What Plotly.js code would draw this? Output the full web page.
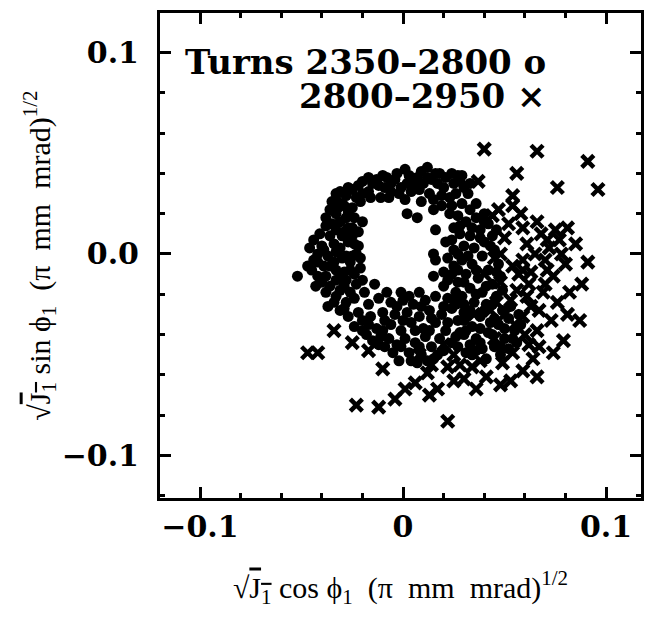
<!DOCTYPE html>
<html>
<head>
<meta charset="utf-8">
<script src="https://cdn.plot.ly/plotly-3.0.1.min.js"></script>
<style>html,body{margin:0;padding:0;background:#fff;}#chart{width:645px;height:621px;}</style>
</head>
<body>
<div id="chart"></div>
<script>
// Turns 2350-2800 (filled dots)
const circX = [
0.001,0.012,0.016,0.027,-0.008,-0.020,-0.015,-0.025,-0.031,-0.035,-0.023,-0.011,-0.006,-0.001,0.005,0.008,0.013,0.020,0.023,0.001,0.029,
-0.017,-0.012,-0.004,0.003,0.007,0.010,0.017,0.021,0.025,0.030,-0.028,-0.020,-0.009,-0.002,0.004,0.015,0.019,0.026,-0.030,-0.025,0.006,-0.013,-0.006,0.014,0.032,
-0.033,-0.027,-0.022,-0.017,-0.010,-0.003,0.002,0.009,0.012,0.018,0.024,0.028,0.033,-0.021,-0.016,-0.007,0.009,
0.002,0.007,0.015,0.016,0.015,0.016,0.015,
-0.033,-0.028,-0.020,-0.025,-0.033,-0.034,-0.044,-0.039,-0.027,-0.023,-0.044,-0.039,-0.052,-0.042,-0.033,-0.028,-0.021,-0.020,-0.036,-0.026,
-0.036,-0.031,-0.038,-0.030,-0.036,-0.041,-0.025,-0.031,-0.037,-0.030,-0.026,-0.042,-0.046,-0.034,-0.029,-0.038,-0.045,-0.033,-0.031,-0.040,-0.024,-0.022,-0.029,-0.033,-0.038,-0.027,-0.022,
-0.032,-0.027,-0.024,-0.035,-0.029,-0.024,-0.033,-0.028,-0.040,-0.047,-0.042,-0.036,-0.031,-0.026,-0.023,-0.038,-0.043,-0.029,-0.021,-0.025,
-0.014,-0.008,-0.001,0.008,0.020,0.027,
-0.037,-0.031,-0.002,0.007,0.015,-0.011,-0.020,
-0.033,-0.028,-0.024,-0.019,-0.017,-0.012,-0.006,0.000,0.005,0.011,0.016,0.022,0.026,-0.027,-0.022,-0.016,-0.010,-0.004,0.002,0.008,0.013,0.019,0.024,0.030,-0.024,-0.017,-0.013,-0.006,-0.001,0.004,0.010,0.016,0.021,0.027,0.032,-0.007,-0.003,0.001,0.006,0.011,0.014,0.018,0.024,0.028,-0.015,0.003,0.009,-0.005,0.020,
-0.029,-0.034,-0.020,-0.009,-0.003,0.003,0.009,0.014,0.020,0.025,0.030,-0.010,-0.018,0.000,0.006,0.013,0.022,0.026,-0.001,0.008,0.017,0.012,0.004,-0.009,-0.012,
0.023,0.025,0.025,0.025,0.029,
0.033,0.027,0.031,0.036,0.028,0.033,0.038,0.042,0.021,0.030,0.035,0.040,0.044,0.022,0.029,0.034,0.039,0.045,0.020,0.031,0.037,0.042,0.047,0.033,0.039,0.044,0.048,0.029,0.035,0.041,0.046,0.038,0.043,0.034,0.049,0.030,0.024,0.036,0.040,0.046,
0.019,0.024,0.028,0.034,0.040,0.024,0.038,0.043,0.027,0.032,0.036,0.027,0.022,0.030,0.041,0.046,0.036,0.026,0.033,0.040,0.045,0.038,0.031,0.044,0.049,
0.030,0.036,0.042,0.047,0.052,0.055,0.050,0.045,0.039,0.033,0.027,0.052,0.056,0.048,0.041,0.034,0.053,0.057,
0.044,0.038,0.031,0.050,0.054,0.058,0.048,0.036
];
const circY = [
0.042,0.043,0.040,0.039,0.038,0.036,0.035,0.032,0.031,0.026,0.028,0.028,0.031,0.033,0.035,0.032,0.030,0.033,0.028,0.027,0.039,
0.031,0.034,0.037,0.039,0.038,0.035,0.035,0.038,0.035,0.033,0.029,0.030,0.033,0.030,0.031,0.027,0.029,0.030,0.025,0.023,0.036,0.037,0.035,0.037,0.030,
0.030,0.033,0.034,0.038,0.039,0.040,0.035,0.041,0.038,0.040,0.040,0.036,0.035,0.026,0.028,0.028,0.026,
0.020,0.018,0.022,0.012,0.000,-0.003,-0.011,
0.020,0.018,0.016,0.013,0.012,0.005,0.007,0.002,0.006,0.000,-0.003,-0.006,-0.011,-0.011,-0.008,-0.013,-0.007,-0.013,-0.016,-0.019,
0.022,0.016,0.014,0.009,0.009,0.010,0.009,0.003,-0.001,-0.002,-0.004,0.000,0.003,-0.004,-0.009,-0.011,-0.008,-0.013,-0.018,-0.014,-0.010,0.004,0.024,0.027,0.018,0.013,0.011,
0.023,0.021,0.018,0.015,0.011,0.005,0.001,-0.001,0.004,-0.006,-0.004,-0.006,-0.012,-0.008,-0.015,-0.019,-0.016,-0.016,-0.002,-0.001,
-0.015,-0.019,-0.019,-0.019,-0.016,-0.014,
-0.026,-0.028,-0.053,-0.054,-0.052,-0.041,-0.038,
-0.021,-0.024,-0.022,-0.019,-0.025,-0.022,-0.024,-0.023,-0.025,-0.023,-0.021,-0.022,-0.019,-0.031,-0.029,-0.031,-0.029,-0.030,-0.029,-0.031,-0.028,-0.030,-0.027,-0.025,-0.036,-0.035,-0.037,-0.035,-0.038,-0.034,-0.037,-0.034,-0.038,-0.033,-0.030,-0.042,-0.045,-0.042,-0.044,-0.041,-0.046,-0.042,-0.044,-0.039,-0.043,-0.049,-0.050,-0.049,-0.048,
-0.027,-0.024,-0.033,-0.033,-0.026,-0.021,-0.026,-0.032,-0.026,-0.023,-0.029,-0.038,-0.040,-0.033,-0.038,-0.038,-0.034,-0.041,-0.046,-0.046,-0.050,-0.053,-0.053,-0.046,-0.045,
0.020,0.013,0.002,-0.006,0.025,
0.022,0.019,0.016,0.018,0.010,0.009,0.012,0.015,0.006,0.004,0.003,0.006,0.009,-0.002,-0.003,-0.005,-0.001,0.002,-0.009,-0.010,-0.012,-0.008,-0.005,-0.017,-0.019,-0.015,-0.011,-0.021,-0.024,-0.025,-0.021,-0.031,-0.034,-0.036,-0.028,-0.033,-0.010,0.025,0.020,0.012,
0.024,0.024,0.014,0.013,0.016,0.007,0.008,0.004,0.000,-0.001,-0.008,-0.008,-0.013,-0.014,-0.016,-0.009,-0.020,-0.025,-0.028,-0.028,-0.032,-0.037,-0.038,-0.025,-0.018,
-0.040,-0.042,-0.039,-0.035,-0.032,-0.038,-0.042,-0.046,-0.047,-0.045,-0.046,-0.047,-0.044,-0.050,-0.052,-0.050,-0.026,-0.030,
-0.040,-0.044,-0.049,-0.037,-0.042,-0.035,-0.046,-0.048
];
// Turns 2800-2950 (crosses)
const crossX = [
0.040,0.066,0.091,0.037,0.056,0.076,0.096,0.054,0.054,0.044,0.066,0.059,0.050,0.061,0.075,0.081,0.085,0.077,0.072,0.078,0.091,0.059,0.054,0.063,0.071,0.074,0.088,0.082,0.069,0.056,0.048,
-0.034,-0.047,-0.042,-0.025,-0.017,-0.010,-0.023,-0.012,-0.004,0.001,0.006,0.012,0.013,0.017,0.022,0.025,0.022,0.008,
0.081,0.087,0.073,0.066,0.079,0.074,0.067,0.064,0.066,0.059,0.053,0.048,0.036,0.034,0.049,0.054,0.059,0.063,0.053,0.030,0.041,
0.071,0.059,0.046,0.061,0.067,0.076,
0.047,0.052,0.045,0.050,0.043,0.057,0.062,0.065,0.068,0.070,0.060,0.045,0.038,0.028,0.020,0.014,0.040,0.035,0.025,0.055,0.062,0.070,0.080,0.058,0.048
];
const crossY = [
0.052,0.051,0.046,0.036,0.040,0.033,0.032,0.029,0.024,0.019,0.016,0.013,0.008,0.005,0.012,0.013,0.005,0.007,0.003,0.000,-0.004,-0.003,-0.006,-0.009,-0.008,-0.011,-0.015,-0.019,-0.019,-0.018,-0.014,
-0.038,-0.049,-0.049,-0.044,-0.048,-0.057,-0.075,-0.076,-0.072,-0.067,-0.064,-0.059,-0.070,-0.067,-0.083,-0.063,-0.056,-0.050,
-0.030,-0.033,-0.033,-0.038,-0.043,-0.049,-0.046,-0.052,-0.061,-0.058,-0.063,-0.065,-0.067,-0.056,-0.054,-0.049,-0.031,-0.026,-0.023,-0.062,-0.061,
0.007,-0.008,-0.024,-0.021,-0.028,-0.024,
0.022,0.015,-0.002,-0.030,-0.028,-0.010,-0.015,0.000,0.010,-0.003,-0.040,-0.042,-0.053,-0.055,-0.045,-0.055,-0.010,-0.030,-0.050,-0.035,-0.045,-0.015,-0.005,0.020,0.000
];
const legendLines = ['Turns 2350\u20132800 o', '2800\u20132950 \u00d7'];

const xRange = [-0.1197, 0.1172];
const yRange = [-0.1211, 0.1196];

const tickFont = {family: 'DejaVu Serif', size: 30, color: '#000', weight: 'bold'};
const titleFont = {family: 'Liberation Serif', size: 30, color: '#000'};

const traces = [
  {type: 'scatter', mode: 'markers', x: circX, y: circY, name: 'Turns 2350\u20132800',
   marker: {symbol: 'circle', size: 11, color: '#000'}},
  {type: 'scatter', mode: 'markers', x: crossX, y: crossY, name: '2800\u20132950',
   marker: {symbol: 'x-thin-open', size: 12, color: '#000', line: {width: 4.5, color: '#000'}}}
];

const axisCommon = {
  showline: true, linewidth: 3, linecolor: 'black', mirror: 'ticks',
  ticks: 'inside', ticklen: 11, tickwidth: 3, tickcolor: 'black',
  showgrid: false, zeroline: false, tickmode: 'linear', tick0: 0, dtick: 0.1,
  minor: {ticks: 'inside', ticklen: 5, tickwidth: 3, tickcolor: 'black', dtick: 0.02, tick0: 0, showgrid: false},
  tickfont: tickFont
};

const layout = {
  width: 645, height: 621,
  margin: {l: 160, r: 4, t: 13, b: 123},
  paper_bgcolor: 'white', plot_bgcolor: 'white',
  showlegend: false,
  xaxis: Object.assign({}, axisCommon, {
    range: xRange,
    title: {text: '\u221a<span style="text-decoration:overline">J<sub>1</sub></span> cos \u03d5<sub>1</sub>\u00a0\u00a0(\u03c0\u00a0\u00a0mm\u00a0\u00a0mrad)<sup>1/2</sup>', font: titleFont, standoff: 34}
  }),
  yaxis: Object.assign({}, axisCommon, {
    range: yRange, tickformat: '.1f',
    ticklabelstandoff: 12,
    title: {text: '\u221a<span style="text-decoration:overline">J<sub>1</sub></span> sin \u03d5<sub>1</sub>\u00a0\u00a0(\u03c0\u00a0\u00a0mm\u00a0\u00a0mrad)<sup>1/2</sup>', font: titleFont, standoff: 3}
  }),
  annotations: [
    {xref: 'paper', yref: 'paper', x: 0.807, y: 0.899, xanchor: 'right', yanchor: 'middle', showarrow: false,
     text: legendLines[0], font: {family: 'DejaVu Serif', size: 34, color: '#000', weight: 'bold'}},
    {xref: 'paper', yref: 'paper', x: 0.807, y: 0.829, xanchor: 'right', yanchor: 'middle', showarrow: false,
     text: legendLines[1], font: {family: 'DejaVu Serif', size: 34, color: '#000', weight: 'bold'}}
  ]
};

Plotly.newPlot('chart', traces, layout, {displayModeBar: false, staticPlot: true});
</script>
</body>
</html>
